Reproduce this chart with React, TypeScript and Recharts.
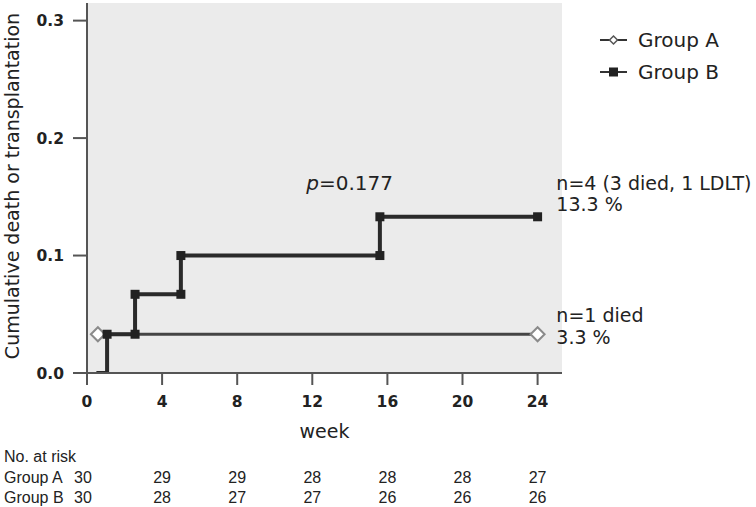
import React from 'react';
import { LineChart, Line, XAxis, YAxis, CartesianGrid, Legend, ReferenceDot } from 'recharts';

const weekTicks = [0, 4, 8, 12, 16, 20, 24];
const riskTicks = [0, 0.1, 0.2, 0.3];
const groupNames = ['Group A', 'Group B'];
const groupAWeeks = [0.58, 24];
const groupAValues = [0.033, 0.033];
const groupBWeeks = [0.5, 1.07, 1.07, 2.56, 2.56, 5.0, 5.0, 15.6, 15.6, 24];
const groupBValues = [0, 0, 0.033, 0.033, 0.067, 0.067, 0.1, 0.1, 0.133, 0.133];
const atRiskA = [30, 29, 29, 28, 28, 28, 27];
const atRiskB = [30, 28, 27, 27, 26, 26, 26];
const pValueText = '0.177';
const noteB = ['n=4 (3 died, 1 LDLT)', '13.3 %'];
const noteA = ['n=1 died', '3.3 %'];
const yTitle = 'Cumulative death or transplantation';
const xTitle = 'week';

const dataA = groupAWeeks.map((x, i) => ({ x, y: groupAValues[i] }));
const dataB = groupBWeeks.map((x, i) => ({ x, y: groupBValues[i] }));

const FONT = '"DejaVu Sans", sans-serif';
const TABLE_FONT = '"Liberation Sans", Arial, sans-serif';

const DiamondDot = (props: any) => {
  const { cx, cy, index } = props;
  if (cx == null || cy == null) return <g key={`a${index}`} />;
  const r = 7;
  return (
    <path
      key={`a${index}`}
      d={`M${cx - r},${cy} L${cx},${cy - r} L${cx + r},${cy} L${cx},${cy + r} Z`}
      fill="#ffffff"
      stroke="#8a8a8a"
      strokeWidth={2}
    />
  );
};

const SquareDot = (props: any) => {
  const { cx, cy, index, payload } = props;
  if (cx == null || cy == null || !payload || payload.y === 0) return <g key={`b${index}`} />;
  const s = 9;
  return <rect key={`b${index}`} x={cx - s / 2} y={cy - s / 2} width={s} height={s} fill="#222" />;
};

const WeekTick = (props: any) => {
  const { x, y, payload, index } = props;
  return (
    <g>
      <text x={x} y={y} dy={20} textAnchor="middle" fontFamily={FONT} fontWeight="bold" fontSize={15.5} fill="#222">
        {payload.value}
      </text>
      <text x={x + (index === 0 ? -4 : 0)} y={y} dy={96} textAnchor="middle" fontFamily={TABLE_FONT} fontSize={16} fill="#222">
        {atRiskA[index]}
      </text>
      <text x={x + (index === 0 ? -4 : 0)} y={y} dy={116} textAnchor="middle" fontFamily={TABLE_FONT} fontSize={16} fill="#222">
        {atRiskB[index]}
      </text>
      {index === 0 && (
        <g fontFamily={TABLE_FONT} fontSize={16} fill="#222">
          <text x={4} y={y} dy={75}>No. at risk</text>
          <text x={4} y={y} dy={96}>{groupNames[0]}</text>
          <text x={4} y={y} dy={116}>{groupNames[1]}</text>
        </g>
      )}
    </g>
  );
};

const YTitle = (props: any) => {
  const vb = props.viewBox || {};
  const cx = 12;
  const cy = (vb.y ?? 3) + (vb.height ?? 370) / 2 - 2;
  return (
    <text x={cx} y={cy} transform={`rotate(-90, ${cx}, ${cy})`} textAnchor="middle" dominantBaseline="central" fontFamily={FONT} fontSize={19} fill="#222">
      {yTitle}
    </text>
  );
};

const LegendContent = () => (
  <svg width={160} height={64}>
    {groupNames.map((name, i) => (
      <g key={name} transform={`translate(0, ${i * 32})`}>
        <line x1={2} y1={15} x2={29} y2={15} stroke="#333" strokeWidth={2} />
        {i === 0 ? (
          <path d="M11.5,15 L15.5,11 L19.5,15 L15.5,19 Z" fill="#fff" stroke="#555" strokeWidth={1.5} />
        ) : (
          <rect x={11} y={10.5} width={9} height={9} fill="#222" />
        )}
        <text x={40} y={15} dominantBaseline="central" fontFamily={FONT} fontSize={20} fill="#222">
          {name}
        </text>
      </g>
    ))}
  </svg>
);

const NoteShape = (lines: string[], gap: number) => (props: any) => {
  const { cx, cy } = props;
  return (
    <g>
      <text x={cx} y={cy} dominantBaseline="central" fontFamily={FONT} fontSize={19} fill="#222">{lines[0]}</text>
      <text x={cx} y={cy + gap} dominantBaseline="central" fontFamily={FONT} fontSize={19} fill="#222">{lines[1]}</text>
    </g>
  );
};

const PShape = (props: any) => {
  const { cx, cy } = props;
  return (
    <text x={cx} y={cy} dominantBaseline="central" fontFamily={FONT} fontSize={20} fill="#222">
      <tspan fontStyle="italic">p</tspan>={pValueText}
    </text>
  );
};

export default function App() {
  return (
    <div style={{ position: 'absolute', left: 0, top: 0, width: 756, height: 507, background: '#fff' }}>
      <LineChart width={756} height={507} margin={{ top: 3, right: 194, bottom: 0, left: 0 }}>
        <CartesianGrid fill="#ebebeb" horizontal={false} vertical={false} />
        <XAxis
          type="number"
          dataKey="x"
          domain={[0, 25.3]}
          ticks={weekTicks}
          allowDataOverflow
          height={134}
          tickSize={12}
          tickMargin={2}
          stroke="#555"
          strokeWidth={2}
          tick={<WeekTick />}
          interval={0}
          label={{ value: xTitle, position: 'insideTop', offset: 52, fontFamily: FONT, fontSize: 19, fill: '#222' }}
        />
        <YAxis
          type="number"
          dataKey="y"
          domain={[0, 0.315]}
          ticks={riskTicks}
          allowDataOverflow
          width={87}
          tickSize={14}
          tickMargin={9}
          stroke="#555"
          strokeWidth={2}
          interval={0}
          tickFormatter={(v: number) => v.toFixed(1)}
          tick={{ fontFamily: FONT, fontWeight: 'bold', fontSize: 15.5, fill: '#222' }}
          label={<YTitle />}
        />
        <Legend layout="vertical" align="center" verticalAlign="middle" content={<LegendContent />} wrapperStyle={{ left: 598, top: 25, width: 160, height: 64 }} />
        <Line data={dataA} dataKey="y" type="linear" stroke="#444" strokeWidth={3} dot={<DiamondDot />} activeDot={false} isAnimationActive={false} legendType="none" />
        <Line data={dataB} dataKey="y" type="linear" stroke="#2a2a2a" strokeWidth={4} dot={<SquareDot />} activeDot={false} isAnimationActive={false} legendType="none" />
        <ReferenceDot x={11.68} y={0.162} r={0} ifOverflow="visible" shape={PShape} />
        <ReferenceDot x={25.0} y={0.162} r={0} ifOverflow="visible" shape={NoteShape(noteB, 21)} />
        <ReferenceDot x={25.0} y={0.049} r={0} ifOverflow="visible" shape={NoteShape(noteA, 22)} />
      </LineChart>
    </div>
  );
}
